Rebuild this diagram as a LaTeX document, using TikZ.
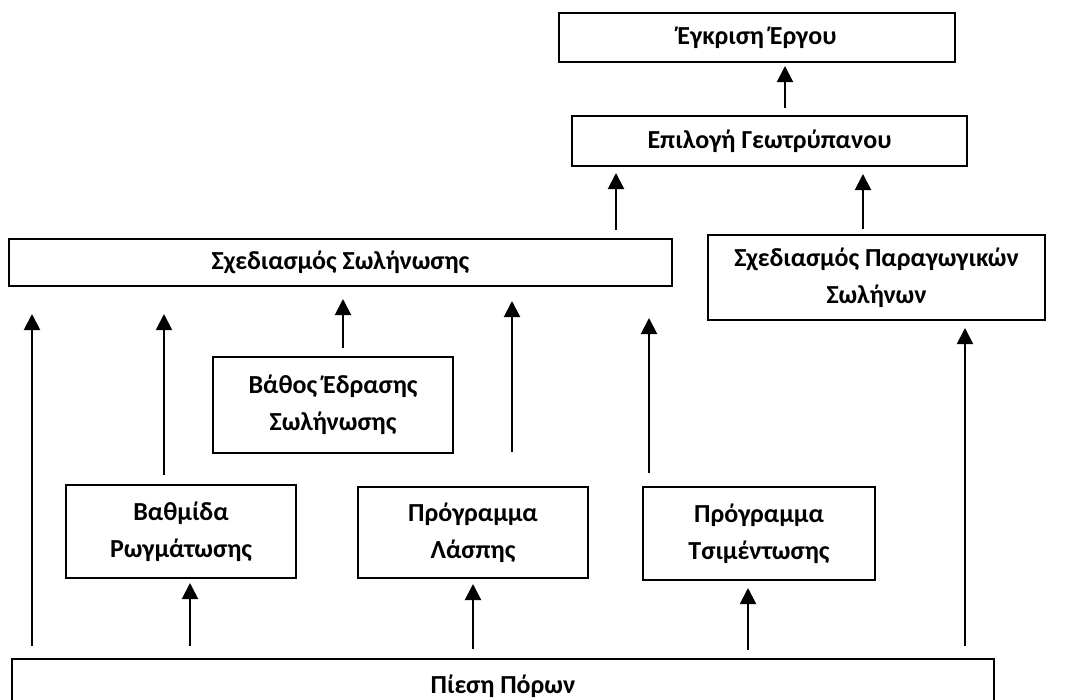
\documentclass[tikz,border=0pt]{standalone}
\usepackage{fontspec}
\setmainfont{Carlito}
\usetikzlibrary{arrows.meta,calc}
\begin{document}
\begin{tikzpicture}[x=1pt,y=-1pt,
  box/.style={draw=black, line width=2pt, rectangle, inner sep=0pt, align=center,
    font=\fontsize{26}{37}\selectfont\bfseries},
  arr/.style={draw=black, line width=2pt, -{Triangle[width=16pt,length=16pt]}}]
\useasboundingbox (0,0) rectangle (1071,699);
\node[box, minimum width=396pt, minimum height=49pt] (ergo) at (757,37.5) {Έγκριση Έργου};
\node[box, minimum width=395pt, minimum height=50pt] (epil) at (769.5,141) {Επιλογή Γεωτρύπανου};
\node[box, minimum width=663pt, minimum height=47pt] (sxsol) at (340.5,262.5) {Σχεδιασμός Σωλήνωσης};
\node[box, minimum width=337pt, minimum height=85pt] (parag) at (876.5,277.5) {Σχεδιασμός Παραγωγικών\\Σωλήνων};
\node[box, minimum width=240pt, minimum height=96pt] (vathos) at (333,405) {Βάθος Έδρασης\\Σωλήνωσης};
\node[box, minimum width=230pt, minimum height=93pt] (vathm) at (181,531.5) {Βαθμίδα\\Ρωγμάτωσης};
\node[box, minimum width=230pt, minimum height=91pt] (laspi) at (473,532.5) {Πρόγραμμα\\Λάσπης};
\node[box, minimum width=232pt, minimum height=93pt] (tsim) at (759,533.5) {Πρόγραμμα\\Τσιμέντωσης};
\node[box, minimum width=982pt, minimum height=54pt] (piesi) at (503,686) {Πίεση Πόρων};
% arrows
\draw[arr] ($(epil.north)+(15.5,-7)$) -- ($(ergo.south)+(28,3)$);
\draw[arr] ($(sxsol.north)+(275.5,-8)$) -- ($(epil.south)+(-153.5,6)$);
\draw[arr] ($(parag.north)+(-13.5,-5)$) -- ($(epil.south)+(93.5,7)$);
\draw[arr] ($(piesi.north)+(-471,-12)$) -- ($(sxsol.south)+(-308.5,27)$);
\draw[arr] ($(vathm.north)+(-17,-9)$) -- ($(sxsol.south)+(-176.5,27)$);
\draw[arr] ($(vathos.north)+(10,-8)$) -- ($(sxsol.south)+(2.5,12)$);
\draw[arr] ($(laspi.north)+(39,-34)$) -- ($(sxsol.south)+(171.5,14)$);
\draw[arr] ($(tsim.north)+(-110,-13)$) -- ($(sxsol.south)+(308.5,31)$);
\draw[arr] ($(piesi.north)+(-313,-12)$) -- ($(vathm.south)+(9,4)$);
\draw[arr] ($(piesi.north)+(-30,-9)$) -- ($(laspi.south)+(0,5)$);
\draw[arr] ($(piesi.north)+(245,-8)$) -- ($(tsim.south)+(-11,7)$);
\draw[arr] ($(piesi.north)+(462,-12)$) -- ($(parag.south)+(88.5,7)$);
\end{tikzpicture}
\end{document}
